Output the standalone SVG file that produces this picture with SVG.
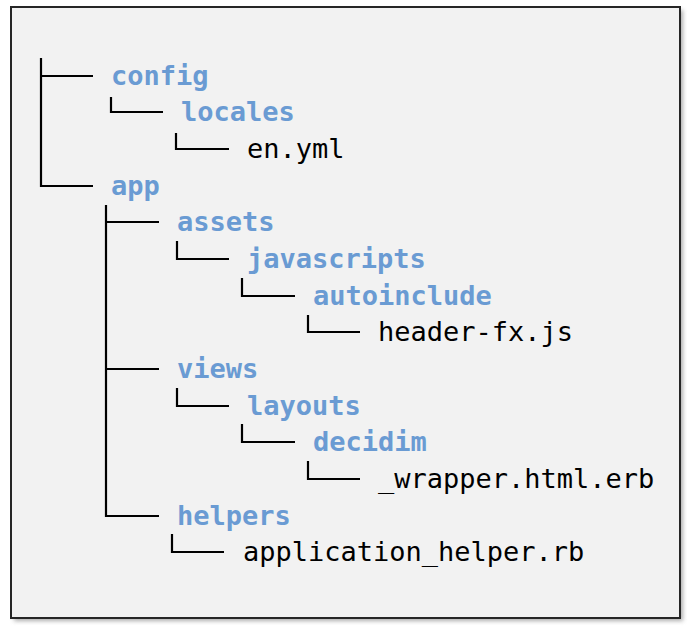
<svg xmlns="http://www.w3.org/2000/svg" width="688" height="630" viewBox="0 0 688 630">
<defs>
<filter id="sh" x="-5%" y="-5%" width="110%" height="110%"><feGaussianBlur stdDeviation="2"/></filter>
<style>
.t{font-family:"DejaVu Sans Mono","Liberation Mono",monospace;font-size:27px}
.d{fill:#6a9bd3;font-weight:bold}
.f{fill:#000}
.c path{fill:none;stroke:#000;stroke-width:2.2}
</style>
</defs>
<rect x="14" y="10" width="669" height="611" fill="#777" opacity="0.6" filter="url(#sh)"/>
<rect x="11" y="7" width="669" height="611" fill="#f2f2f2" stroke="#262626" stroke-width="2"/>
<g class="c" id="connectors">
<path d="M41 58V186H93M41 76H93"/>
<path d="M111 97V112H163"/>
<path d="M176 133V149H229"/>
<path d="M106 205V516H159M106 222H159M106 369H159"/>
<path d="M177 241V259H229"/>
<path d="M242 278V296H295"/>
<path d="M308 315V332H360"/>
<path d="M177 388V406H229"/>
<path d="M242 424V442H295"/>
<path d="M308 461V479H360"/>
<path d="M172 534V552H224"/>
</g>
<g id="config"><text class="t d" x="111" y="85">config</text></g>
<g id="locales"><text class="t d" x="181" y="121">locales</text></g>
<g id="en_yml"><text class="t f" x="247" y="158">en.yml</text></g>
<g id="app"><text class="t d" x="111" y="195">app</text></g>
<g id="assets"><text class="t d" x="177" y="231">assets</text></g>
<g id="javascripts"><text class="t d" x="247" y="268">javascripts</text></g>
<g id="autoinclude"><text class="t d" x="313" y="305">autoinclude</text></g>
<g id="header_fx"><text class="t f" x="378" y="341">header-fx.js</text></g>
<g id="views"><text class="t d" x="177" y="378">views</text></g>
<g id="layouts"><text class="t d" x="247" y="415">layouts</text></g>
<g id="decidim"><text class="t d" x="313" y="451">decidim</text></g>
<g id="wrapper"><text class="t f" x="378" y="488">_wrapper.html.erb</text></g>
<g id="helpers"><text class="t d" x="177" y="525">helpers</text></g>
<g id="application_helper"><text class="t f" x="243" y="561">application_helper.rb</text></g>
</svg>
